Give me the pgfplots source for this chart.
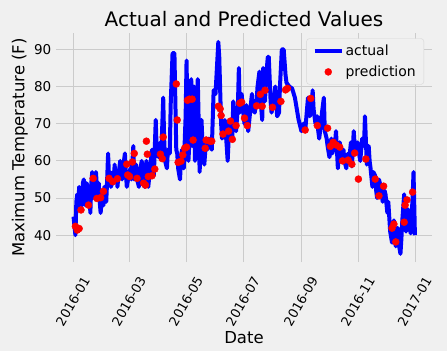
\documentclass[border=0pt]{standalone}
\usepackage{fontspec}
\setmainfont{DejaVu Sans}
\usepackage{pgfplots}
\pgfplotsset{compat=1.18}
\definecolor{bgc}{HTML}{F0F0F0}
\definecolor{gridc}{HTML}{CBCBCB}
\definecolor{legc}{HTML}{D6D6D6}
\begin{document}
\begin{tikzpicture}
\fill[bgc] (-56.5pt,-89pt) rectangle (390.5pt,262pt);
\begin{axis}[
  scale only axis, width=375pt, height=229pt,
  xmin=-18.25, xmax=383.25, ymin=32.8, ymax=94.4,
  axis background/.style={fill=bgc},
  axis line style={draw=none},
  major tick length=0pt,
  tick style={draw=none},
  xmajorgrids, ymajorgrids,
  major grid style={draw=gridc, line width=1pt},
  xtick={0,60,121,182,244,305,366},
  xticklabels={2016-01,2016-03,2016-05,2016-07,2016-09,2016-11,2017-01},
  ytick={40,50,60,70,80,90},
  /pgf/number format/assume math mode=true,
  xticklabel style={xshift=13pt, yshift=-15.5pt, rotate=60, anchor=east, inner sep=0pt, font=\fontsize{13}{15}\selectfont},
  yticklabel style={xshift=-5pt, inner sep=0pt, anchor=east, font=\fontsize{13.5}{16}\selectfont},
  title={Actual and Predicted Values},
  every axis title/.style={at={(axis description cs:0.5,1)}, anchor=base, yshift=7pt, font=\fontsize{20}{24}\selectfont},
  xlabel={Date}, ylabel={Maximum Temperature (F)},
  every axis x label/.style={at={(axis description cs:0.5,0)}, yshift=-81pt, anchor=base, font=\fontsize{16.5}{20}\selectfont},
  every axis y label/.style={at={(axis description cs:0,0.5)}, xshift=-32pt, rotate=90, anchor=base, font=\fontsize{16.5}{20}\selectfont},
  legend style={at={(axis description cs:1,1)}, anchor=north east, xshift=-7.5pt, yshift=-5.3pt, fill=bgc, draw=legc, rounded corners=3pt, inner xsep=6pt, inner ysep=4.5pt, row sep=4.7pt, font=\fontsize{14}{16}\selectfont, /tikz/every even column/.append style={column sep=14pt}},
  legend cell align=left,
]
\addplot[blue, line width=4pt, line join=round,
  legend image code/.code={\draw[blue, line width=4pt] (0pt,0pt) -- (27pt,0pt);}]
coordinates {
(0,45)(2,40)(3,49)(4,51)(5,47)(6,53)(7,49)(8,52)(9,48)(10,54)(11,55)(12,49)(13,48)(14,54)(15,53)(16,49)(17,52)(18,46)(19,54)(20,57)(21,50)(22,55)(23,51)(24,57)(25,53)(26,50)(27,54)(28,49)(29,46)(30,49)(31,51)(32,48)(33,53)(34,51)(35,49)(36,55)(37,62)(38,55)(39,57)(40,53)(41,54)(42,57)(43,54)(44,59)(45,55)(46,57)(47,53)(48,56)(50,60)(51,56)(52,55)(53,58)(55,62)(56,57)(57,53)(59,56)(61,58)(62,55)(64,64)(65,55)(66,57)(67,59)(68,55)(70,53)(71,57)(73,60)(74,55)(76,53)(77,57)(78,60)(79,55)(80,53)(82,58)(84,63)(85,58)(86,56)(88,71)(89,63)(91,61)(93,65)(94,62)(96,77)(97,66)(98,60)(100,58)(101,63)(103,62)(104,75)(106,89)(108,89)(110,63)(111,62)(112,58)(114,55)(115,60)(116,63)(118,58)(120,72)(121,87)(122,70)(123,60)(125,70)(126,82)(127,64)(129,80)(130,60)(131,66)(133,82)(134,70)(135,57)(137,71)(138,65)(140,59)(142,66)(143,63)(145,66)(147,64)(148,63)(150,79)(152,78)(155,92)(156,88)(158,70)(159,66)(161,68)(162,71)(164,64)(165,60)(167,71)(168,67)(170,66)(171,76)(172,71)(174,68)(176,75)(177,85)(178,73)(180,78)(181,75)(183,70)(185,75)(186,72)(187,68)(189,73)(191,78)(192,74)(194,73)(196,76)(197,80)(199,84)(200,77)(202,71)(203,85)(204,80)(205,76)(206,82)(208,88)(209,88)(211,76)(212,73)(214,76)(216,80)(218,72)(220,73)(221,80)(223,90)(225,90)(227,83)(228,81)(231,80)(234,79.5)(237,77)(241,71)(243,69)(244,68)(246,70)(248,68)(250,74)(251,77)(252,74)(253,72)(255,75)(256,79)(257,74)(259,70)(261,72)(262,68)(263,66)(265,70)(266,73)(268,77)(269,68)(271,66)(272,64)(274,61)(276,66)(277,62)(278,63)(280,65)(281,68)(283,58)(284,62)(285,65)(287,61)(289,63)(290,60)(292,58)(294,62)(295,60)(297,65)(298,58.5)(300,68)(301,64)(302,62)(304,65)(305,63)(307,60)(309,66)(311,64)(312,72)(314,59)(316,64)(317,60)(318,58)(320,53)(321,57)(323,56)(324,52)(325,50)(327,55)(328,54)(330,51)(331,49)(333,52)(334,51)(336,46)(337,49)(339,41)(341,38)(342,42)(343,44)(345,37)(347,42)(348,38)(350,35)(351,39)(352,44)(354,51)(355,45)(356,41)(358,47)(359,43)(361,40.5)(363,50)(364,57)(365.5,40)
};
\addlegendentry{actual}
\addplot[only marks, mark=*, mark size=3.5pt, draw=red, fill=red,
  legend image code/.code={\fill[red] (13.7pt,0pt) circle (3.5pt);}]
coordinates {
(2,42.4)(4,41.4)(6,41.8)(8,46.8)(16,48.1)(21,55.3)(25,49.9)(29,50.1)(32,51.8)(38,55.3)(42,54.4)(47,55.2)(57,59.1)(58,56.2)(60,55.8)(63,59.7)(65,62)(68,55.3)(75,54)(77,53.5)(78,65.3)(79,61.8)(80,55.8)(84,56)(87,57.8)(93,61.8)(95,60.6)(96,66.4)(110,80.7)(111,71)(112,59.6)(115,59.9)(117,61.6)(119,63.4)(121,63.7)(122,76.3)(124,76.6)(127,76.6)(128,65.6)(141,63.4)(142,65.6)(146,65.3)(148,65.3)(155,74.7)(157,74)(158,72.2)(160,67.2)(166,68)(168,70.7)(170,65.8)(174,69.5)(178,75.5)(180,75.8)(183,71.5)(186,69.5)(196,74.8)(200,77.9)(202,74.7)(205,79)(213,74.4)(222,76)(227,79.1)(229,79.5)(248,68.3)(254,76.8)(261,69.5)(272,68.8)(275,63.9)(278,65)(281,64.3)(285,63.7)(288,60)(294,60.2)(298,59.1)(301,62.1)(305,55.1)(313,60.5)(323,55.1)(327,50.6)(332,53.2)(341,41.9)(343,43)(345,38.2)(354,43.5)(355,48.1)(357,49.5)(363,51.6)
};
\addlegendentry{prediction}
\end{axis}
\pgfresetboundingbox
\useasboundingbox (-56.5pt,-89pt) rectangle (390.5pt,262pt);
\end{tikzpicture}
\end{document}
